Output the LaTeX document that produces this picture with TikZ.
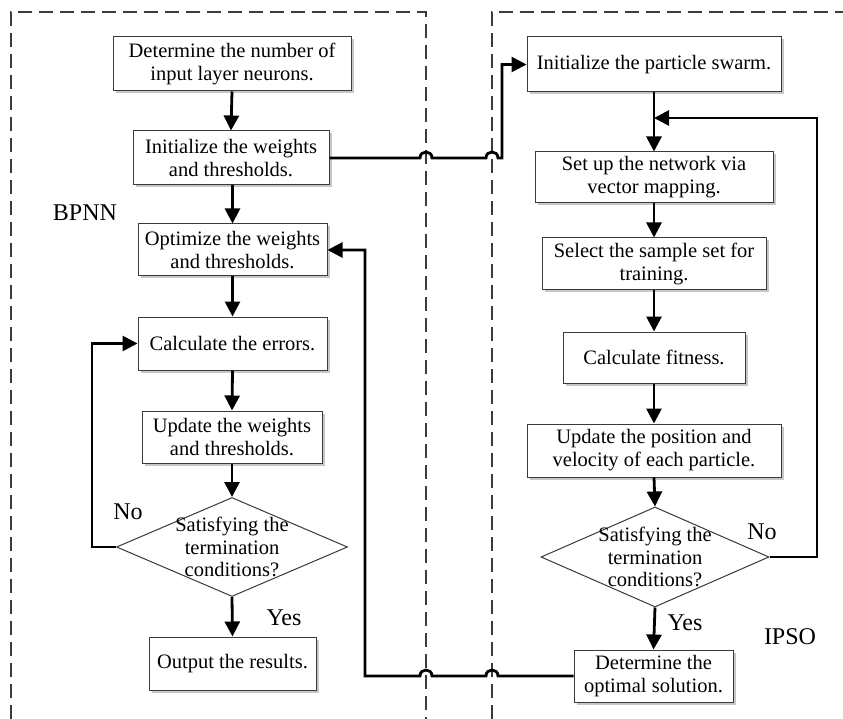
\documentclass[tikz,border=0pt]{standalone}
\usepackage{fontspec}
\setmainfont{Liberation Serif}
\usetikzlibrary{arrows.meta,shapes.geometric,shadows}
\definecolor{dashgray}{HTML}{3C3C3C}
\definecolor{boxline}{HTML}{3A3A3A}
\tikzset{
  procbox/.style={draw=boxline, line width=1pt, fill=white, align=center, inner sep=0pt,
    font=\fontsize{20.5}{23}\selectfont,
    drop shadow={shadow xshift=2.5pt, shadow yshift=-2.5pt, fill=black!22, opacity=1}},
  decbox/.style={draw=boxline, line width=1pt, fill=white, shape=diamond, inner sep=0pt},
  dectext/.style={align=center, inner sep=0pt, font=\fontsize{20.5}{22.5}\selectfont},
  conn/.style={draw=black, line width=2.8pt, -{Triangle[length=15pt,width=15pt]}},
  plainconn/.style={draw=black, line width=2.8pt},
  region/.style={draw=dashgray, line width=2.6pt, dash pattern=on 14pt off 7pt},
  lbl/.style={inner sep=0pt, font=\fontsize{24}{26}\selectfont}
}
\begin{document}
\begin{tikzpicture}[x=1pt,y=-1pt]
\useasboundingbox (0,0) rectangle (843,719);
\fill[white] (0,0) rectangle (843,719);
% dashed regions
\draw[region] (11,719) -- (11,12) -- (426,12) -- (426,719);
\draw[region] (492,719) -- (492,12) -- (843,12);

% left column
\node[procbox, minimum width=238pt, minimum height=54pt] (L1) at (232,64) {Determine the number of\\input layer neurons.};
\node[procbox, minimum width=196pt, minimum height=54pt] (L2) at (231,158) {Initialize the weights\\and thresholds.};
\node[procbox, minimum width=189pt, minimum height=52pt] (L3) at (232.5,250) {Optimize the weights\\and thresholds.};
\node[procbox, minimum width=189pt, minimum height=53pt] (L4) at (232.5,343.5) {Calculate the errors.};
\node[procbox, minimum width=180pt, minimum height=52pt] (L5) at (232,437) {Update the weights\\and thresholds.};
\node[decbox, minimum width=231pt, minimum height=99pt] (DL) at (232,547) {};
\node[dectext] (DLt) at (232,547) {Satisfying the\\termination\\conditions?};
\node[procbox, minimum width=167pt, minimum height=53pt] (L6) at (232.5,663.5) {Output the results.};

% right column
\node[procbox, minimum width=254pt, minimum height=55pt] (R1) at (654,64.5) {Initialize the particle swarm.};
\node[procbox, minimum width=238pt, minimum height=51pt] (R2) at (654,177.5) {Set up the network via\\vector mapping.};
\node[procbox, minimum width=224pt, minimum height=52pt] (R3) at (654,264) {Select the sample set for\\training.};
\node[procbox, minimum width=182pt, minimum height=51pt] (R4) at (654,357.5) {Calculate fitness.};
\node[procbox, minimum width=254pt, minimum height=53pt] (R5) at (654,450.5) {Update the position and\\velocity of each particle.};
\node[decbox, minimum width=228pt, minimum height=100pt] (DR) at (655,557) {};
\node[dectext] (DRt) at (655,557) {Satisfying the\\termination\\conditions?};
\node[procbox, minimum width=159pt, minimum height=52pt] (R6) at (653.5,676) {Determine the\\optimal solution.};

% labels
\node[lbl] (bpnn) at (85,213) {BPNN};
\node[lbl] (ipso) at (790,637) {IPSO};
\node[lbl] (noL) at (128,512) {No};
\node[lbl] (yesL) at (284,618) {Yes};
\node[lbl] (noR) at (762,532) {No};
\node[lbl] (yesR) at (685,623) {Yes};

% coordinates
\coordinate (cLloop) at (92,547);
\coordinate (cRloop) at (817,557);
\coordinate (cRin) at (654,118);

% left connectors
\draw[conn] (L1.south) -- (L2.north);
\draw[conn] (L2.south -| L3.north) -- (L3.north);
\draw[conn] (L3.south) -- (L4.north);
\draw[conn] (L4.south) -- (L5.north);
\draw[conn] (L5.south) -- (DL.north);
\draw[conn] (DL.south) -- (L6.north);
\draw[conn] (DL.west) -- (cLloop) |- (L4.west);

% right connectors
\draw[plainconn] (R1.south) -- (cRin);
\draw[conn] (cRin) -- (R2.north);
\draw[conn] (R2.south) -- (R3.north);
\draw[conn] (R3.south) -- (R4.north);
\draw[conn] (R4.south) -- (R5.north);
\draw[conn] (R5.south) -- (DR.north);
\draw[conn] (DR.south) -- (R6.north);
\draw[conn] (DR.east) -- (cRloop) |- (cRin);

% cross connectors with hops
\draw[conn] (L2.east) -- (420,158) .. controls (420,150) and (432,150) .. (432,158)
  -- (486,158) .. controls (486,150) and (498,150) .. (498,158)
  -- (502,158) -- (502,64.5) -- (R1.west);
\draw[conn] (R6.west) -- (498,676) .. controls (498,668) and (486,668) .. (486,676)
  -- (432,676) .. controls (432,668) and (420,668) .. (420,676)
  -- (365,676) -- (365,250) -- (L3.east);
\end{tikzpicture}
\end{document}
